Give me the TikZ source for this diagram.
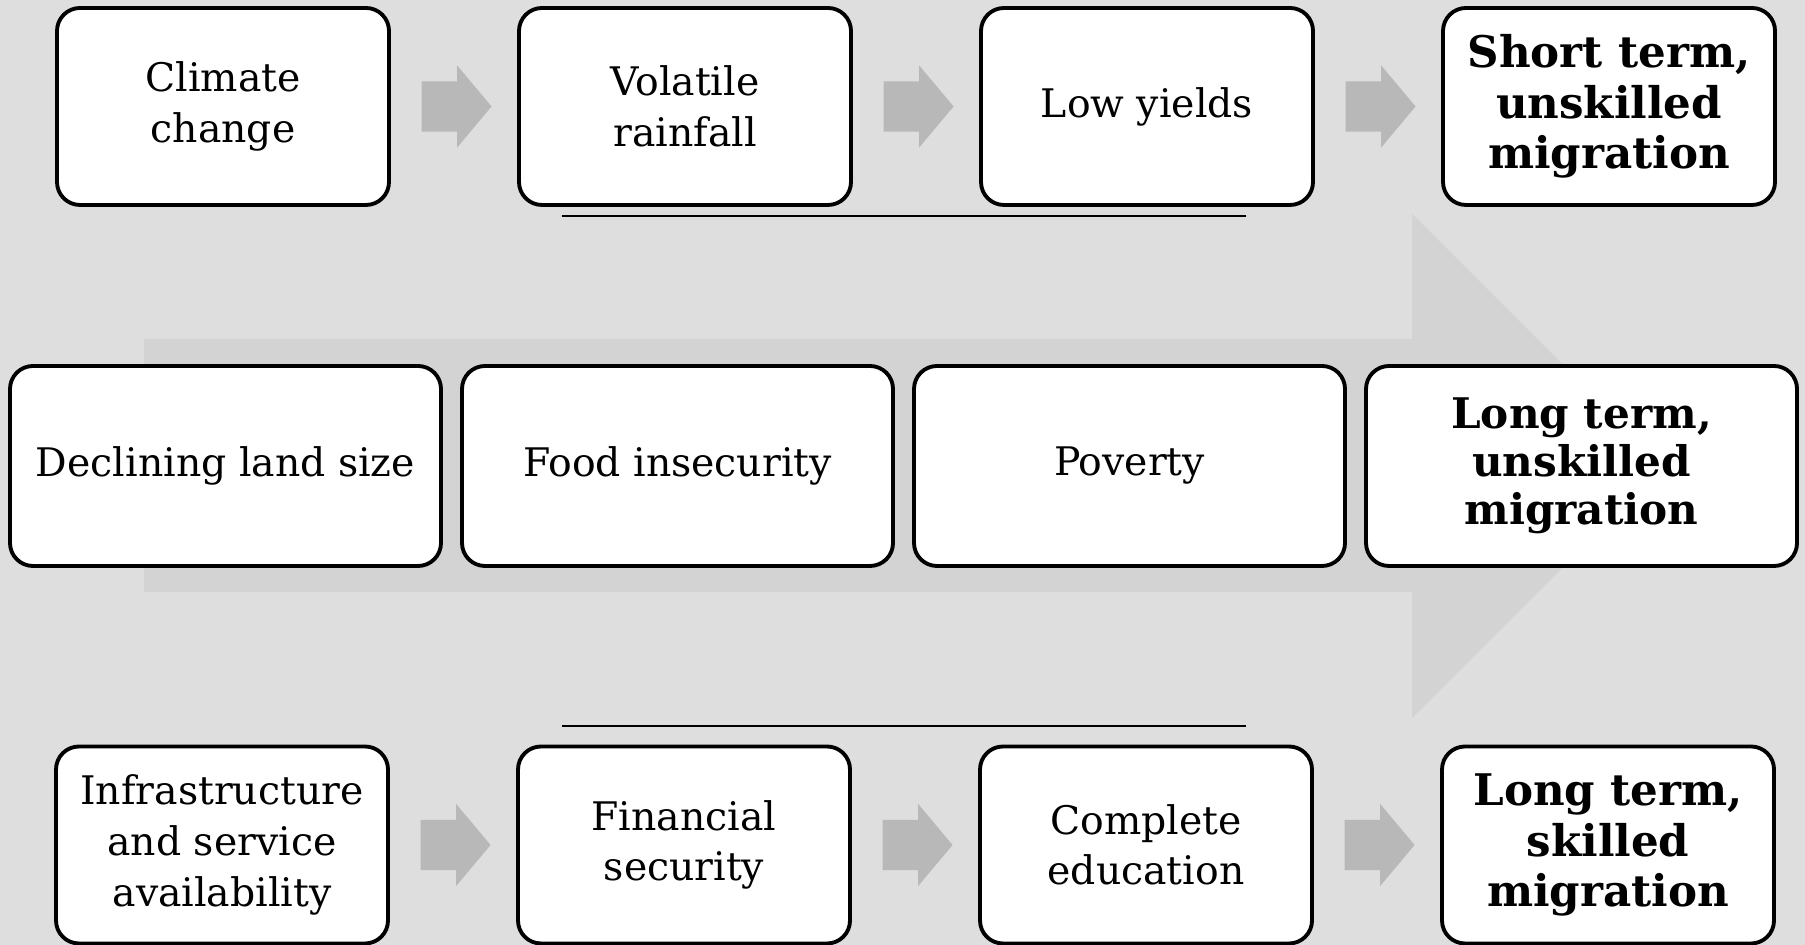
\documentclass[tikz,border=0pt]{standalone}
\usepackage{fontspec}
\setmainfont{DejaVu Serif}
\usepackage{tikz}
\usetikzlibrary{shapes,arrows,positioning}
\definecolor{bggray}{HTML}{DEDEDE}
\definecolor{flowgray}{HTML}{D3D3D3}
\definecolor{linkgray}{HTML}{B8B8B8}
\tikzset{%
  box/.style      = {draw, line width=1.1pt, rounded corners=0.23cm, fill=white,
    minimum width = 3.32cm, minimum height = 1.97cm, align=center},
  widebox/.style  = {box, minimum width = 4.31cm, minimum height = 2.0cm},
  result/.style   = {font=\fontsize{12.4}{14.4}\selectfont\bfseries}, % Migration outcome
  link/.style     = {single arrow, fill=linkgray, inner xsep=0pt, inner ysep=0.245cm,
    minimum height = 0.70cm, minimum width = 0.81cm, node distance = 2.23cm,
    single arrow head extend = 0.16cm, single arrow tip angle = 100}, % Step arrow
  bar/.style      = {line width=0.7pt}
}

\begin{document}
\begin{tikzpicture}[node distance=4.62cm, font=\fontsize{11.2}{14.4}\selectfont]
        \fill[bggray] (0,0) rectangle (18.05,9.45);
        \useasboundingbox (0,0) rectangle (18.05,9.45);
        % big arrow behind the middle row
        \fill[flowgray] (1.44,6.06) -- (14.12,6.06) -- (14.12,7.31) -- (16.64,4.79)
            -- (14.12,2.27) -- (14.12,3.53) -- (1.44,3.53) -- cycle;

        % top row
        \draw
            node [box] (clim) at (2.23,8.385) {Climate\\change}
            node [link, right of=clim] (arr1) {}
            node [box, right of=clim] (rain) {Volatile\\rainfall}
            node [link, right of=rain] (arr2) {}
            node [box, right of=rain] (yield) {Low yields}
            node [link, right of=yield] (arr3) {}
            node [box, result, right of=yield] (short) {Short term,\\unskilled\\migration};

        % middle row
        \draw
            node [widebox] (land) at (2.255,4.79) {Declining land size}
            node [widebox, right of=land, node distance=4.52cm] (food) {Food insecurity}
            node [widebox, right of=food, node distance=4.52cm] (pov) {Poverty}
            node [widebox, result, right of=pov, node distance=4.52cm,
                font=\fontsize{12}{13.6}\selectfont\bfseries] (longu)
                {Long term,\\unskilled\\migration};

        % bottom row
        \draw
            node [box] (infra) at (2.22,1.0) {Infrastructure\\and service\\availability}
            node [link, right of=infra] (arr4) {}
            node [box, right of=infra] (fin) {Financial\\security}
            node [link, right of=fin] (arr5) {}
            node [box, right of=fin] (edu) {Complete\\education}
            node [link, right of=edu] (arr6) {}
            node [box, result, right of=edu] (longs) {Long term,\\skilled\\migration};

        % separators
        \coordinate (sepa) at (5.62,7.29);
        \coordinate (sepb) at (12.46,7.29);
        \coordinate (sepc) at (5.62,2.19);
        \coordinate (sepd) at (12.46,2.19);
        \draw[bar] (sepa) -- (sepb);
        \draw[bar] (sepc) -- (sepd);
        \end{tikzpicture}
\end{document}
